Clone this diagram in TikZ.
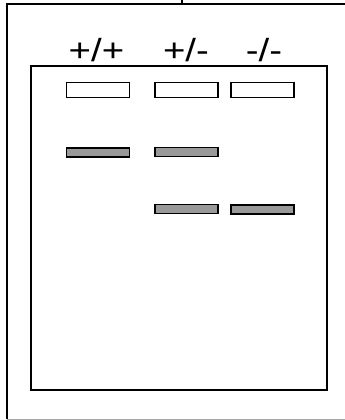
\documentclass[tikz,border=0pt]{standalone}
\usepackage{fontspec}
\setmainfont{Liberation Sans}
\newcommand{\genolbl}[1]{\scalebox{1.2}[1]{#1}}

\begin{document}
\begin{tikzpicture}[x=1pt,y=-1pt,
  well/.style={draw=black,line width=1.4pt,fill=white,
               minimum width=63pt,minimum height=15pt,inner sep=0pt},
  band/.style={draw=black,line width=1.4pt,fill=black!40,
               minimum width=63pt,minimum height=9pt,inner sep=0pt},
  geno/.style={font=\fontsize{32}{38}\selectfont,anchor=base,inner sep=0pt}
]
\useasboundingbox (0,0) rectangle (345,420);
% frame
\draw[line width=2pt] (7,419) -- (7,4) -- (345,4);
\draw[line width=2pt] (182,0) -- (182,4);
\draw[black!35,line width=1pt] (7,419) -- (345,419);
% gel
\draw[line width=1.8pt] (31,66) rectangle (327,390);
% genotypes
\node[geno] (gWT)  at (96.5,61.5) {\genolbl{+/+}};
\node[geno] (gHet) at (186,61.5)  {\genolbl{+/-}};
\node[geno] (gKO)  at (264,61.5)  {\genolbl{-/-}};
% wells
\node[well] (wWT)  at (98,90)    {};
\node[well] (wHet) at (186.5,90) {};
\node[well] (wKO)  at (262.5,90) {};
% bands
\node[band] (bWT)   at (98,152.5)    {};
\node[band] (bHetA) at (186.5,152)   {};
\node[band] (bHetB) at (186.5,209)   {};
\node[band] (bKO)   at (262.5,209.5) {};
\end{tikzpicture}
\end{document}
